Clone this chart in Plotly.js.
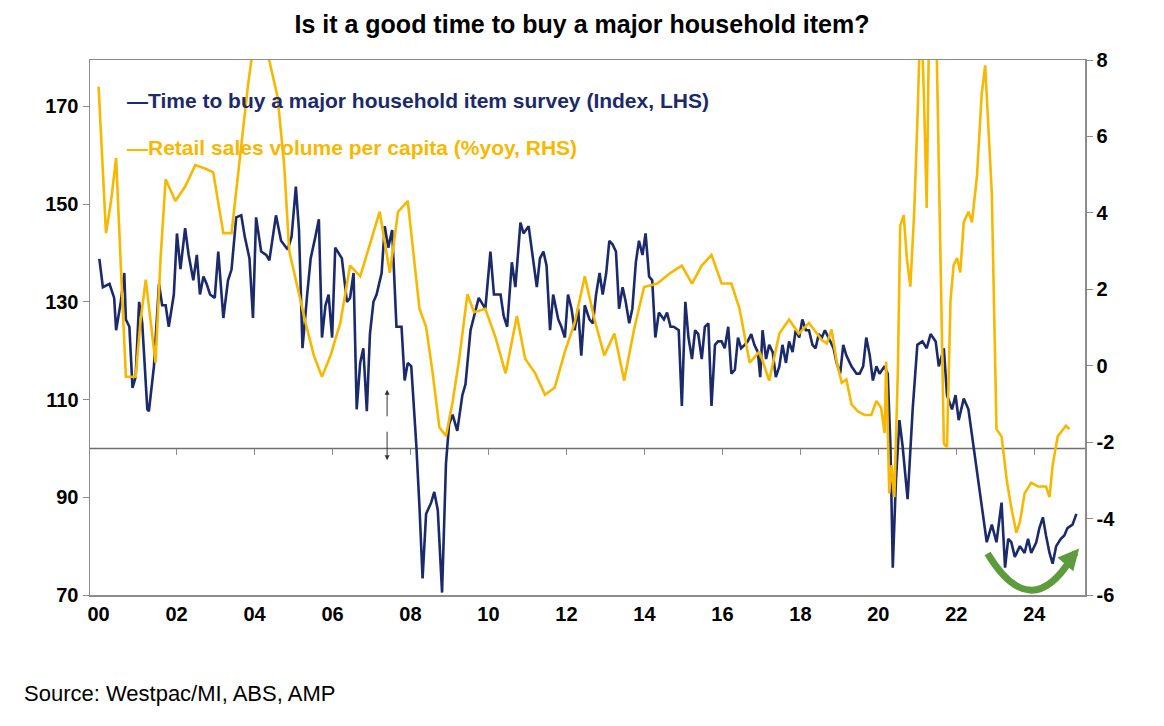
<!DOCTYPE html>
<html><head><meta charset="utf-8">
<script src="https://cdn.plot.ly/plotly-3.0.1.min.js"></script>
<style>body{margin:0;background:#fff}#c{width:1164px;height:726px}</style>
</head><body><div id="c"></div>
<script>
const surveyYears=[2000.02,2000.11,2000.28,2000.40,2000.45,2000.57,2000.66,2000.70,2000.79,2000.87,2000.95,2001.04,2001.12,2001.25,2001.29,2001.42,2001.55,2001.63,2001.72,2001.80,2001.93,2002.01,2002.10,2002.22,2002.31,2002.43,2002.52,2002.60,2002.69,2002.77,2002.86,2002.98,2003.07,2003.20,2003.32,2003.41,2003.53,2003.66,2003.75,2003.87,2003.96,2004.04,2004.17,2004.30,2004.38,2004.55,2004.68,2004.85,2004.95,2005.06,2005.14,2005.23,2005.35,2005.44,2005.56,2005.65,2005.73,2005.82,2005.90,2005.99,2006.07,2006.24,2006.37,2006.45,2006.54,2006.62,2006.71,2006.79,2006.88,2006.96,2007.05,2007.13,2007.26,2007.34,2007.43,2007.53,2007.64,2007.77,2007.85,2007.93,2008.02,2008.15,2008.23,2008.31,2008.40,2008.53,2008.61,2008.70,2008.81,2008.91,2008.99,2009.08,2009.20,2009.33,2009.41,2009.54,2009.75,2009.92,
2010.05,2010.14,2010.22,2010.31,2010.39,2010.48,2010.60,2010.69,2010.82,2010.90,2011.03,2011.11,2011.24,2011.32,2011.41,2011.49,2011.58,2011.66,2011.79,2011.87,2011.96,2012.04,2012.13,2012.21,2012.30,2012.38,2012.47,2012.59,2012.68,2012.76,2012.85,2012.93,2013.02,2013.10,2013.18,2013.27,2013.35,2013.44,2013.52,2013.61,2013.69,2013.78,2013.86,2013.95,2014.03,2014.12,2014.20,2014.28,2014.37,2014.50,2014.58,2014.67,2014.75,2014.88,2014.96,2015.05,2015.13,2015.22,2015.30,2015.38,2015.47,2015.55,2015.64,2015.72,2015.81,2015.89,2015.98,2016.06,2016.15,2016.23,2016.32,2016.40,2016.48,2016.57,2016.65,2016.74,2016.82,2016.91,2016.97,2017.03,2017.12,2017.20,2017.29,2017.37,2017.46,2017.54,2017.63,2017.71,2017.80,2017.88,2017.97,2018.05,2018.14,2018.22,2018.31,2018.39,2018.47,
2018.55,2018.63,2018.72,2018.85,2018.93,2019.02,2019.10,2019.18,2019.31,2019.44,2019.52,2019.61,2019.69,2019.78,2019.86,2019.95,2020.03,2020.16,2020.24,2020.31,2020.37,2020.45,2020.54,2020.62,2020.75,2020.88,2021.00,2021.13,2021.24,2021.34,2021.47,2021.55,2021.68,2021.76,2021.89,2021.98,2022.06,2022.19,2022.31,2022.44,2022.57,2022.65,2022.78,2022.91,2023.03,2023.16,2023.25,2023.33,2023.41,2023.50,2023.63,2023.75,2023.84,2023.92,2024.05,2024.13,2024.22,2024.30,2024.39,2024.47,2024.56,2024.68,2024.77,2024.85,2024.98,2025.08];
const surveyIndex=[138.8,133.0,133.7,130.8,124.2,130.0,135.9,126.4,124.9,112.4,114.6,130.0,125.6,108.0,107.6,116.8,133.7,129.3,129.3,124.9,131.5,144.0,136.7,145.1,139.6,134.4,139.6,131.5,135.2,133.7,131.5,130.8,140.3,126.7,134.4,136.6,147.3,147.7,143.3,138.9,126.7,147.3,140.3,139.6,138.5,147.7,142.5,140.7,143.3,153.6,144.7,120.5,131.5,138.9,143.3,146.9,122.7,129.3,131.5,122.7,141.1,138.9,130.0,130.8,135.9,108.0,117.5,120.5,107.6,123.4,130.0,131.5,135.9,145.5,141.1,144.7,124.9,124.9,113.9,117.5,116.8,100.6,88.1,73.4,86.6,88.9,91.1,87.4,70.5,96.9,105.0,106.9,103.6,110.9,113.1,124.2,130.8,128.6,
140.3,131.5,131.5,131.5,127.1,124.9,138.1,133.0,146.2,144.0,145.5,140.3,133.0,138.9,140.3,137.4,124.2,131.5,126.4,124.9,122.7,131.5,128.6,124.2,128.6,119.0,129.3,126.4,125.6,131.5,135.9,131.5,135.9,142.5,141.8,140.3,128.6,133.0,130.0,125.6,128.6,138.1,142.5,139.6,144.0,135.2,134.4,122.7,127.8,126.4,127.8,124.9,124.9,124.2,108.7,130.0,122.7,118.3,124.2,123.4,118.3,124.9,125.6,108.7,121.2,121.9,121.9,120.5,124.9,115.3,116.1,122.7,120.5,121.2,121.9,123.4,121.2,119.7,114.6,124.2,118.3,121.2,119.7,114.6,116.8,121.2,117.5,121.9,119.7,124.2,122.7,126.4,124.2,124.2,121.2,120.5,123.4,122.7,
124.2,122.7,120.5,117.5,115.3,121.2,119.0,116.8,115.3,115.3,116.8,122.7,119.0,113.9,116.8,115.3,116.8,115.3,100.6,75.6,93.3,105.8,100.6,89.6,108.0,121.2,121.9,120.5,123.4,121.9,116.8,120.5,110.9,108.0,110.9,105.8,110.2,108.0,100.6,92.5,88.1,80.8,84.4,80.8,88.9,75.6,81.5,80.8,77.8,80.0,78.6,81.5,78.6,80.8,83.7,85.9,82.2,78.6,76.4,80.0,81.5,82.2,83.7,84.4,86.6,90.3];
const retailYears=[2000.0,2000.19,2000.32,2000.45,2000.57,2000.70,2000.95,2001.08,2001.21,2001.34,2001.46,2001.59,2001.72,2001.97,2002.22,2002.48,2002.73,2002.94,2003.2,2003.41,2003.62,2003.83,2004.0,2004.17,2004.38,2004.59,2004.76,2004.89,2005.1,2005.31,2005.52,2005.73,2005.95,2006.2,2006.45,2006.71,2006.96,2007.21,2007.47,2007.68,2007.93,2008.23,2008.4,2008.57,2008.74,2008.91,2009.08,2009.25,2009.46,2009.63,2009.92,
2010.18,2010.44,2010.73,2010.94,2011.2,2011.45,2011.7,2011.96,2012.21,2012.47,2012.72,2012.97,2013.23,2013.48,2013.73,2013.99,2014.33,2014.67,2014.96,2015.22,2015.47,2015.72,2015.98,2016.23,2016.44,2016.7,2016.95,2017.2,2017.46,2017.71,2017.96,2018.22,
2018.55,2018.68,2018.80,2018.93,2019.06,2019.18,2019.31,2019.48,2019.65,2019.82,2019.95,2020.07,2020.16,2020.2,2020.24,2020.28,2020.34,2020.41,2020.5,2020.56,2020.65,2020.73,2020.82,2020.92,2021.0,2021.09,2021.17,2021.24,2021.34,2021.43,2021.51,2021.6,2021.68,2021.76,2021.85,2021.93,2022.02,2022.1,2022.19,2022.31,2022.4,2022.53,2022.65,2022.74,2022.82,2022.91,2023.03,2023.16,2023.29,2023.41,2023.54,2023.63,2023.75,2023.92,2024.09,2024.3,2024.39,2024.47,2024.6,2024.73,2024.81,2024.9];
const retailYoY=[7.3,3.47,4.31,5.44,2.62,-0.29,-0.29,1.21,2.25,1.12,0.08,2.81,4.88,4.31,4.69,5.25,5.16,5.06,3.47,3.47,5.44,7.32,8.6,8.6,7.98,7.04,5.25,3.0,2.06,1.12,0.27,-0.29,0.27,1.12,2.62,2.34,3.18,4.03,2.43,4.03,4.31,1.49,1.02,-0.2,-1.61,-1.84,-0.95,0.18,1.87,1.40,1.49,
0.74,-0.2,1.30,0.18,-0.2,-0.76,-0.57,0.37,1.12,2.34,1.21,0.27,0.84,-0.39,0.93,2.06,2.15,2.43,2.62,2.15,2.62,2.90,2.15,2.15,1.49,0.08,0.37,-0.39,0.84,1.21,0.84,1.12,
0.67,0.58,0.95,0.11,-0.45,-0.36,-1.01,-1.2,-1.29,-1.29,-0.92,-1.1,-1.76,0.11,-1.85,-3.34,-2.6,-3.44,-0.17,3.66,3.94,2.82,2.07,4.03,6.37,9.5,7.0,4.13,12,12,7.5,2.6,-2.04,-2.13,1.7,2.63,2.82,2.44,3.75,4.03,3.75,4.97,7.11,7.86,6.37,4.5,-1.66,-1.85,-2.97,-3.72,-4.37,-4.09,-3.34,-3.06,-3.16,-3.16,-3.44,-2.60,-1.85,-1.66,-1.57,-1.66];
const leftTicks=[70,90,110,130,150,170];
const rightTicks=[-6,-4,-2,0,2,4,6,8];
const rightTickText=["-6","-4","-2","0","2","4","6","8"];
const xTickVals=[2000,2002,2004,2006,2008,2010,2012,2014,2016,2018,2020,2022,2024];
const xTickText=["00","02","04","06","08","10","12","14","16","18","20","22","24"];

const navy="#1b2a6b", gold="#f6b800", axisGrey="#8c8c8c";
const tf={family:"Liberation Sans, Arial, sans-serif",size:20,color:"#000",weight:"bold"};
const xRange=[1999.78,2025.3];
const traces=[
 {x:surveyYears,y:surveyIndex,type:"scatter",mode:"lines",line:{color:navy,width:2.6},xaxis:"x",yaxis:"y",name:"survey"},
 {x:retailYears,y:retailYoY,type:"scatter",mode:"lines",line:{color:gold,width:2.6},xaxis:"x",yaxis:"y2",name:"retail"},
 {x:xRange,y:[100,100],type:"scatter",mode:"lines",line:{color:"rgba(0,0,0,0)",width:0},xaxis:"x2",yaxis:"y",hoverinfo:"skip"}
];
const yFrac=(100-70)/(179.5-70);
const layout={
 width:1164,height:726,showlegend:false,paper_bgcolor:"#fff",plot_bgcolor:"#fff",
 margin:{l:90,r:79,t:60,b:131},
 title:{text:"<b>Is it a good time to buy a major household item?</b>",x:0.5,xanchor:"center",y:0.978,yanchor:"top",font:{family:"Liberation Sans, Arial, sans-serif",size:25,color:"#000"}},
 xaxis:{range:xRange,tickvals:xTickVals,ticktext:xTickText,tickfont:tf,showgrid:false,zeroline:false,ticks:"",showline:true,linecolor:axisGrey,linewidth:1.5,mirror:true},
 xaxis2:{range:xRange,overlaying:"x",anchor:"free",position:yFrac,tickvals:xTickVals.slice(1),showticklabels:false,ticks:"outside",ticklen:6,tickwidth:1.2,tickcolor:axisGrey,showgrid:false,zeroline:false,showline:false,side:"bottom"},
 yaxis:{range:[70,179.5],tickvals:leftTicks,tickfont:tf,showgrid:false,zeroline:false,ticks:"outside",ticklen:6,tickcolor:axisGrey,showline:true,linecolor:axisGrey,linewidth:1.5},
 yaxis2:{range:[-6,8],tickvals:rightTicks,ticktext:rightTickText,tickfont:tf,overlaying:"y",side:"right",showgrid:false,zeroline:false,ticks:"outside",ticklen:6,tickcolor:axisGrey,showline:true,linecolor:axisGrey,linewidth:1.5},
 shapes:[
  {type:"line",xref:"paper",yref:"y",x0:0,x1:1,y0:100,y1:100,line:{color:"#707070",width:1.5},layer:"below"},
  {type:"path",xref:"x",yref:"y",path:"M 2022.8,78.5 Q 2023.9,64 2024.95,77.5",line:{color:"#5e9b3c",width:7}}
 ],
 annotations:[
  {xref:"paper",yref:"paper",x:0.035,y:0.925,xanchor:"left",yanchor:"middle",showarrow:false,text:"<b>—Time to buy a major household item survey (Index, LHS)</b>",font:{family:"Liberation Sans, Arial, sans-serif",size:21,color:navy}},
  {xref:"paper",yref:"paper",x:0.035,y:0.837,xanchor:"left",yanchor:"middle",showarrow:false,text:"<b>—Retail sales volume per capita (%yoy, RHS)</b>",font:{family:"Liberation Sans, Arial, sans-serif",size:21,color:gold}},
  {xref:"x",yref:"y",x:2007.4,y:112,ax:0,ay:28,showarrow:true,arrowhead:2,arrowsize:1,arrowwidth:1,arrowcolor:"#333",text:""},
  {xref:"x",yref:"y",x:2007.4,y:97.6,ax:0,ay:-30,showarrow:true,arrowhead:2,arrowsize:1,arrowwidth:1,arrowcolor:"#333",text:""},
  {xref:"x",yref:"y",x:2025.15,y:79.5,ax:-14,ay:16,showarrow:true,arrowhead:2,arrowsize:0.6,arrowwidth:7,arrowcolor:"#5e9b3c",text:""},
  {xref:"paper",yref:"paper",x:-0.068,y:-0.185,xanchor:"left",yanchor:"middle",showarrow:false,text:"Source: Westpac/MI, ABS, AMP",font:{family:"Liberation Sans, Arial, sans-serif",size:22,color:"#000"}}
 ]
};
Plotly.newPlot("c",traces,layout,{staticPlot:true});
</script></body></html>
